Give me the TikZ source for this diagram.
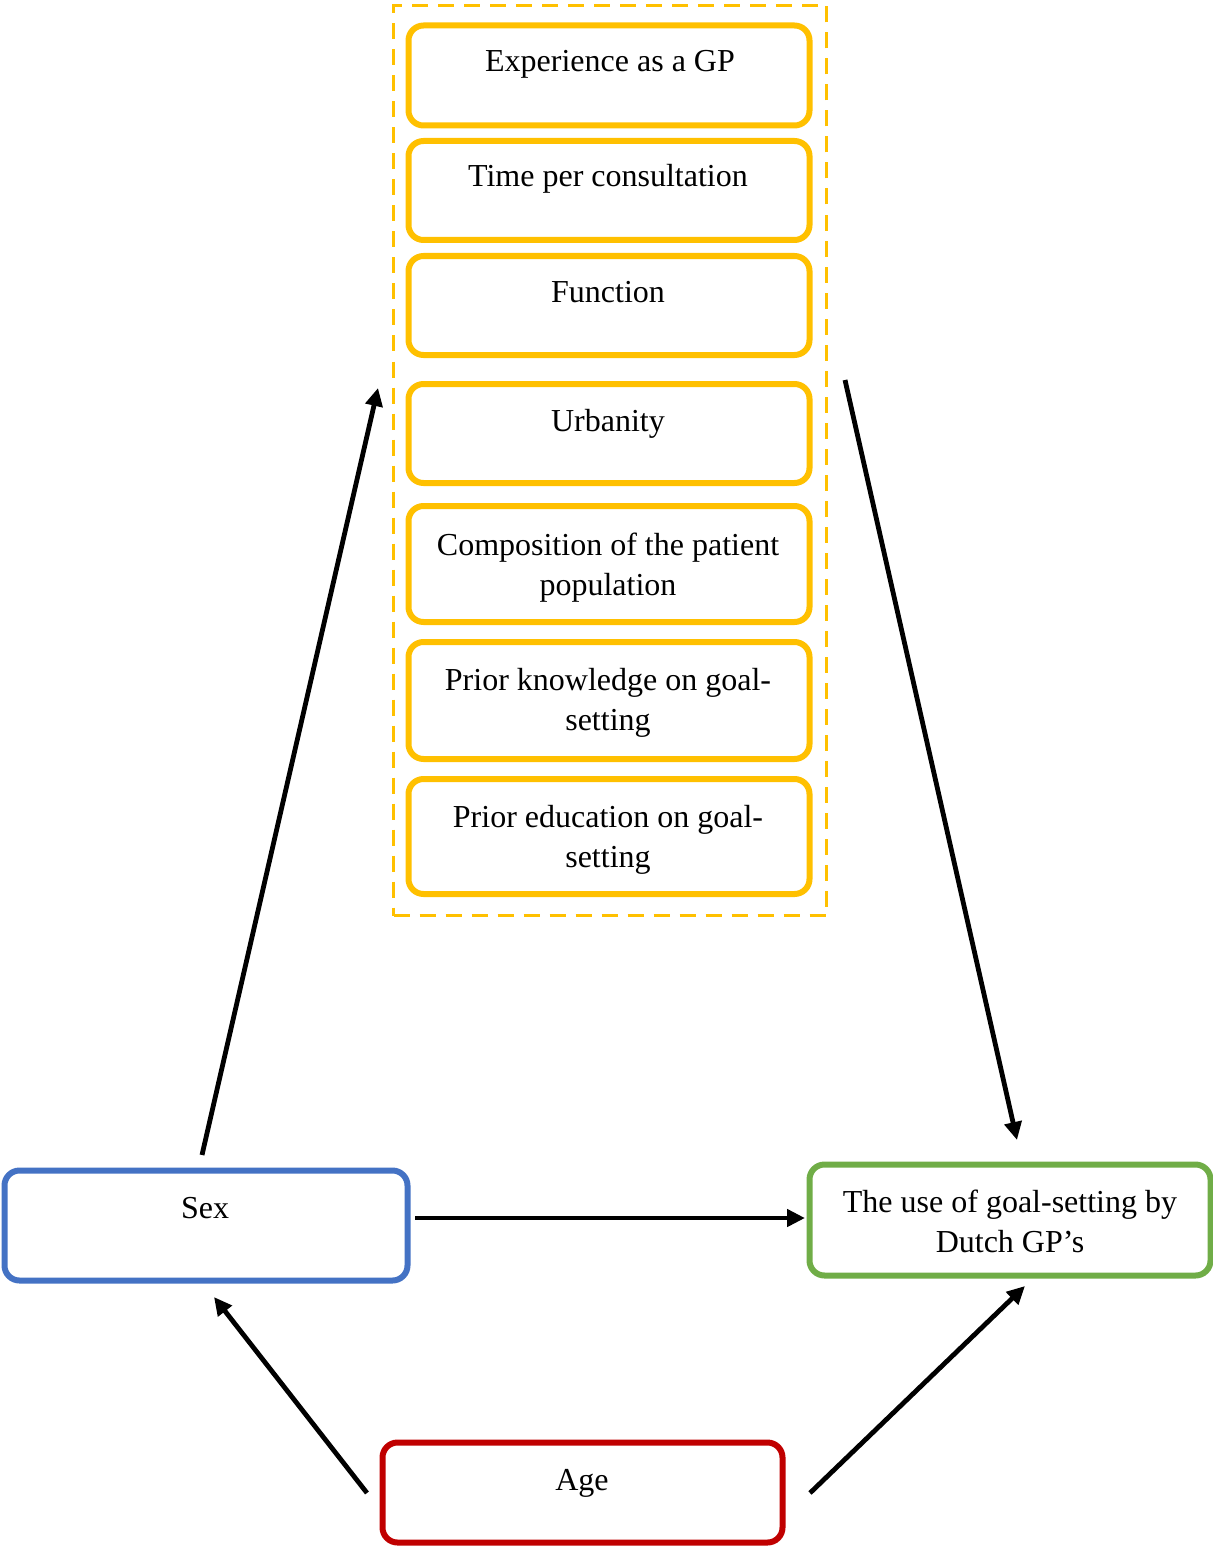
\documentclass[tikz,border=0pt]{standalone}
\usepackage{fontspec}
\setmainfont{Liberation Serif}
\usetikzlibrary{arrows.meta}
\definecolor{gold}{HTML}{FFC000}
\definecolor{bluebox}{HTML}{4472C4}
\definecolor{greenbox}{HTML}{70AD47}
\definecolor{redbox}{HTML}{C00000}
\begin{document}
\begin{tikzpicture}[x=0.5pt,y=-0.5pt,
  box/.style={draw, rounded corners=7.5pt, line width=3pt, inner sep=0pt, outer sep=0pt},
  ybox/.style={box, draw=gold, minimum width=200.5pt},
  txt/.style={font=\fontsize{16}{20}\selectfont, align=center, anchor=base, inner sep=0pt, outer sep=0pt},
  arr/.style={line width=2.4pt, -{Triangle[length=9pt,width=8.5pt]}},
  group/.style={draw=gold, line width=1.8pt, dash pattern=on 8pt off 5pt, inner sep=0pt, outer sep=0pt}]
\useasboundingbox (0,0) rectangle (1213,1546);

% dashed group
\node[group, minimum width=216.5pt, minimum height=455pt] (grp) at (610,460.5) {};

% yellow boxes
\node[ybox, minimum height=50pt]   (b1) at (609,75.5) {};
\node[ybox, minimum height=49.5pt] (b2) at (609,190.5) {};
\node[ybox, minimum height=49.5pt] (b3) at (609,305.5) {};
\node[ybox, minimum height=49.5pt] (b4) at (609,433.5) {};
\node[ybox, minimum height=58pt]   (b5) at (609,564) {};
\node[ybox, minimum height=58.5pt] (b6) at (609,700.5) {};
\node[ybox, minimum height=57.5pt] (b7) at (609,836.5) {};

\node[txt] (t1) at (610,72) {Experience as a GP};
\node[txt] (t2) at (608,187) {Time per consultation};
\node[txt] (t3) at (608,302) {Function};
\node[txt] (t4) at (608,431) {Urbanity};
\node[txt] (t5) at (608,595) {Composition of the patient\\population};
\node[txt] (t6) at (608,730) {Prior knowledge on goal-\\setting};
\node[txt] (t7) at (608,867) {Prior education on goal-\\setting};

% bottom boxes
\node[box, draw=bluebox, minimum width=201.5pt, minimum height=55pt] (sex) at (206,1225.5) {};
\node[txt] (tsex) at (205,1218) {Sex};
\node[box, draw=greenbox, minimum width=200.5pt, minimum height=55.5pt] (use) at (1010,1220) {};
\node[txt] (tuse) at (1010,1252) {The use of goal-setting by\\Dutch GP’s};
\node[box, draw=redbox, minimum width=200pt, minimum height=50pt] (age) at (582.5,1492.5) {};
\node[txt] (tage) at (582,1490) {Age};

% arrow endpoints
\coordinate (a1s) at (202,1155);
\coordinate (a1e) at (378,388);
\coordinate (a2s) at (845,380);
\coordinate (a2e) at (1017,1140);
\coordinate (a3s) at (415,1218);
\coordinate (a3e) at (805,1218);
\coordinate (a4s) at (367,1493);
\coordinate (a4e) at (214,1297);
\coordinate (a5s) at (810,1493);
\coordinate (a5e) at (1025,1286);

\draw[arr] (a1s) -- (a1e);
\draw[arr] (a2s) -- (a2e);
\draw[arr] (a3s) -- (a3e);
\draw[arr] (a4s) -- (a4e);
\draw[arr] (a5s) -- (a5e);
\end{tikzpicture}
\end{document}
